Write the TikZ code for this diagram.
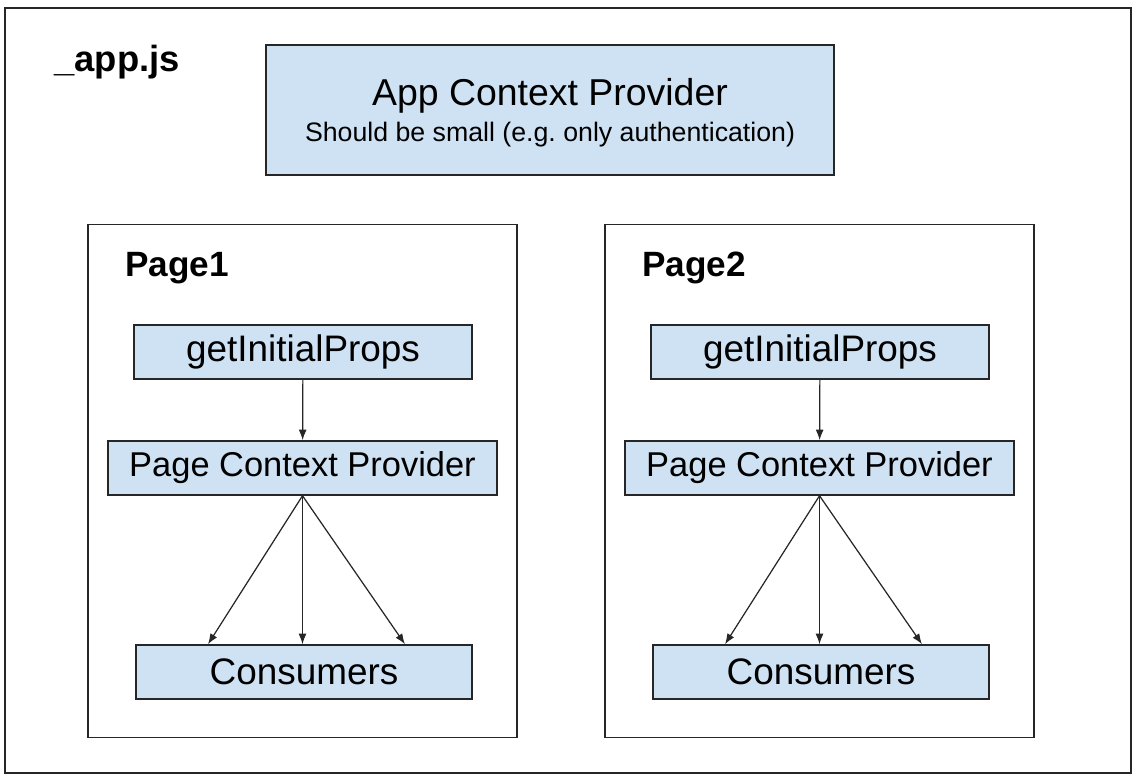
\documentclass[tikz,border=0pt]{standalone}
\usepackage{fontspec}
\setmainfont{Liberation Sans}
\usetikzlibrary{positioning, calc, arrows.meta}
\definecolor{boxblue}{HTML}{CFE2F3}
\definecolor{linegray}{HTML}{262626}

\begin{document}
\begin{tikzpicture}[>={Latex[length=6pt,width=4.5pt]},
	blk/.style={draw=linegray, fill=boxblue, line width=0.85pt, minimum height=1.08cm, inner sep=0pt},
	frm/.style={draw=linegray, line width=0.9pt, inner sep=0pt},
	lbl/.style={anchor=base west, inner sep=0pt, font=\fontsize{20}{24}\selectfont\bfseries}]
			\useasboundingbox (0,0) rectangle (22.68,15.64);
			\node (frame) [frm, line width=1.1pt, minimum width=22.52cm, minimum height=15.3cm] at (11.36,7.83) {};
			\node (appjs) [lbl, font=\fontsize{20.7}{24}\selectfont\bfseries] at (1.08,14.2) {\_app.js};
			\node (app) [blk, minimum width=11.36cm, minimum height=2.6cm, align=center] at (11.0,13.44) {\fontsize{21.3}{24}\selectfont\rule{0pt}{18.5pt}App Context Provider\\[4pt]\fontsize{15.2}{19}\selectfont Should be small (e.g.\ only authentication)};
			
			\node (page1) [frm, minimum width=8.58cm, minimum height=10.26cm] at (6.05,6.02) {};
			\node (title1) [lbl] at (2.5,10.1) {Page1};
			\node (gip1) [blk, minimum width=6.76cm, font=\fontsize{21}{24}\selectfont] at (6.06,8.6) {getInitialProps};
			\node (pcp1) [blk, minimum width=7.78cm, font=\fontsize{19.6}{24}\selectfont] at (6.05,6.28) {Page Context Provider};
			\node (cons1) [blk, minimum width=6.72cm, font=\fontsize{21}{24}\selectfont] at (6.08,2.2) {Consumers};
			\draw [->, line width=0.7pt, linegray] (gip1) -- (pcp1);
			\draw [->, line width=0.7pt, linegray] (pcp1.south) -- ([xshift=-1.92cm]cons1.north);
			\draw [->, line width=0.7pt, linegray] (pcp1.south) -- (cons1.north -| pcp1.south);
			\draw [->, line width=0.7pt, linegray] (pcp1.south) -- ([xshift=2.02cm]cons1.north);
			
			\node (page2) [frm, minimum width=8.58cm, minimum height=10.26cm] at (16.39,6.02) {};
			\node (title2) [lbl] at (12.84,10.1) {Page2};
			\node (gip2) [blk, minimum width=6.76cm, font=\fontsize{21}{24}\selectfont] at (16.4,8.6) {getInitialProps};
			\node (pcp2) [blk, minimum width=7.78cm, font=\fontsize{19.6}{24}\selectfont] at (16.39,6.28) {Page Context Provider};
			\node (cons2) [blk, minimum width=6.72cm, font=\fontsize{21}{24}\selectfont] at (16.42,2.2) {Consumers};
			\draw [->, line width=0.7pt, linegray] (gip2) -- (pcp2);
			\draw [->, line width=0.7pt, linegray] (pcp2.south) -- ([xshift=-1.92cm]cons2.north);
			\draw [->, line width=0.7pt, linegray] (pcp2.south) -- (cons2.north -| pcp2.south);
			\draw [->, line width=0.7pt, linegray] (pcp2.south) -- ([xshift=2.02cm]cons2.north);
		\end{tikzpicture}
\end{document}
